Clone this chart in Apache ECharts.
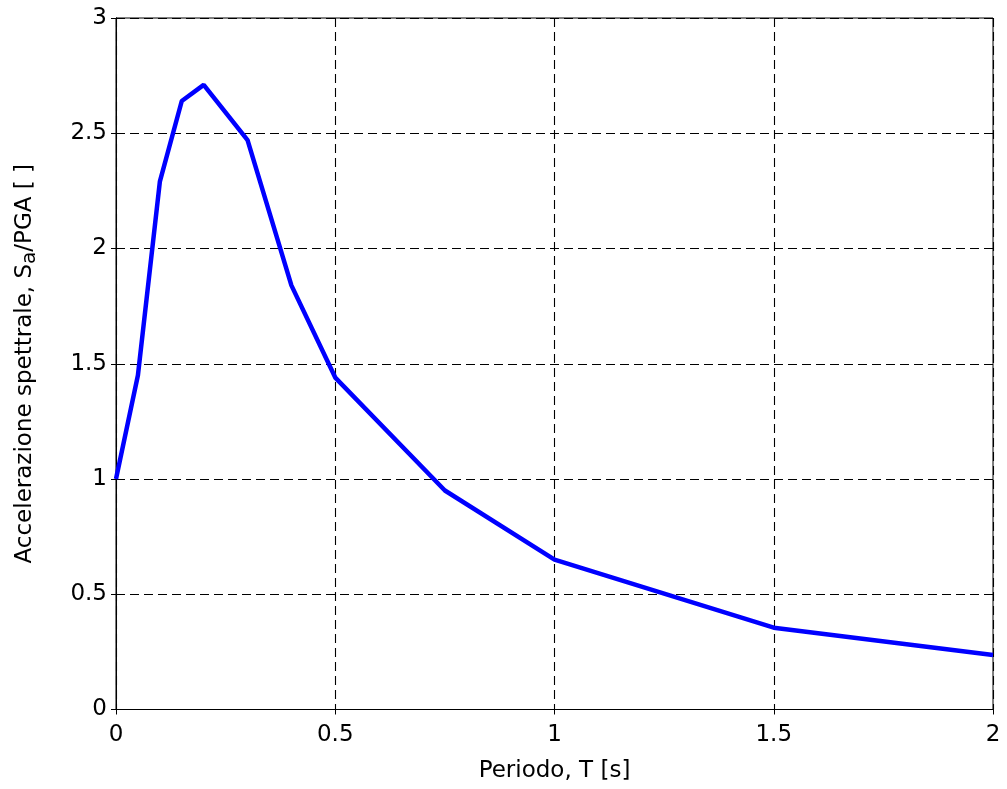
<!DOCTYPE html>
<html>
<head>
<meta charset="utf-8">
<script src="https://cdn.jsdelivr.net/npm/echarts@6/dist/echarts.min.js"></script>
<style>html,body{margin:0;padding:0;background:#fff;}#c{width:1007px;height:789px;}</style>
</head>
<body>
<div id="c"></div>
<script>
const periods = [0, 0.05, 0.1, 0.15, 0.2, 0.3, 0.4, 0.5, 0.75, 1.0, 1.5, 2.0];
const spectralAcc = [1.0, 1.45, 2.29, 2.64, 2.71, 2.47, 1.84, 1.44, 0.95, 0.65, 0.355, 0.236];
const xTicks = [0, 0.5, 1, 1.5, 2];
const yTicks = [0, 0.5, 1, 1.5, 2, 2.5, 3];
const xTitle = 'Periodo, T [s]';

const chart = echarts.init(document.getElementById('c'), null, {renderer: 'canvas'});
const font = 'DejaVu Sans, Liberation Sans, Arial, sans-serif';
const fs = 23;
const fmt = v => String(v);
const gridLine = {show: true, lineStyle: {color: '#000', type: [9, 5], width: 1.1}};
chart.setOption({
  animation: false,
  backgroundColor: '#fff',
  grid: {left: 116, right: 14, top: 18, bottom: 79.5, show: true, borderColor: '#000', borderWidth: 1,
         backgroundColor: 'transparent', containLabel: false, outerBoundsMode: 'none'},
  xAxis: [{
    type: 'value', min: 0, max: 2, interval: 0.5,
    name: xTitle, nameLocation: 'middle', nameGap: 50,
    nameTextStyle: {fontFamily: font, fontSize: fs, color: '#000'},
    axisLine: {show: true, onZero: false, lineStyle: {color: '#000', width: 1}},
    axisTick: {show: true, inside: true, length: 5, lineStyle: {color: '#000'}},
    axisLabel: {fontFamily: font, fontSize: fs, color: '#000', margin: 14, formatter: fmt},
    splitLine: gridLine
  }, {
    type: 'value', min: 0, max: 2, interval: 0.5, position: 'top',
    axisLine: {show: true, lineStyle: {color: '#000', width: 1}},
    axisTick: {show: true, inside: true, length: 5, lineStyle: {color: '#000'}},
    axisLabel: {show: false}, splitLine: {show: false}
  }],
  yAxis: [{
    type: 'value', min: 0, max: 3, interval: 0.5,
    name: '{n|Accelerazione spettrale, S}{s|a}{n|/PGA [ ]}',
    nameLocation: 'middle', nameGap: 76, nameRotate: 90,
    nameTextStyle: {fontFamily: font, fontSize: fs, color: '#000',
      rich: {
        n: {fontFamily: font, fontSize: fs, color: '#000', lineHeight: 30, verticalAlign: 'middle'},
        s: {fontFamily: font, fontSize: 20, color: '#000', lineHeight: 30, verticalAlign: 'bottom', padding: [12, 0, 0, 0]}
      }},
    axisLine: {show: true, onZero: false, lineStyle: {color: '#000', width: 1}},
    axisTick: {show: true, inside: true, length: 5, lineStyle: {color: '#000'}},
    axisLabel: {fontFamily: font, fontSize: fs, color: '#000', margin: 9, formatter: fmt},
    splitLine: gridLine
  }, {
    type: 'value', min: 0, max: 3, interval: 0.5, position: 'right',
    axisLine: {show: true, lineStyle: {color: '#000', width: 1}},
    axisTick: {show: true, inside: true, length: 5, lineStyle: {color: '#000'}},
    axisLabel: {show: false}, splitLine: {show: false}
  }],
  series: [{
    type: 'line',
    data: periods.map((t, i) => [t, spectralAcc[i]]),
    showSymbol: false, symbol: 'none',
    lineStyle: {color: '#0000ff', width: 4.5},
    clip: true
  }]
});
</script>
</body>
</html>
